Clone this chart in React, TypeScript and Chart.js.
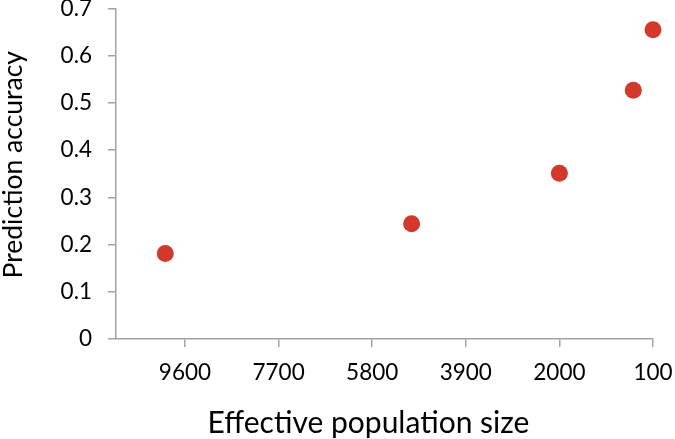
import React, { useEffect, useRef } from "react";
import { Chart, registerables } from "chart.js";
Chart.register(...registerables);

const popSizes = [10000, 5000, 2000, 500, 100];
const accuracy = [0.181, 0.244, 0.351, 0.527, 0.655];
const xTickValues = [9600, 7700, 5800, 3900, 2000, 100];
const yTickValues = [0, 0.1, 0.2, 0.3, 0.4, 0.5, 0.6, 0.7];
const xTitle = "Effective population size";
const yTitle = "Prediction accuracy";

const FONT = "Lato";
const AXIS = "#a3a3a3";

const titlesPlugin = {
  id: "axisTitles",
  afterDraw(chart: any) {
    const c = chart.ctx;
    const area = chart.chartArea;
    c.save();
    c.fillStyle = "#000";
    c.textAlign = "center";
    c.textBaseline = "alphabetic";
    c.font = `30px ${FONT}`;
    c.fillText(xTitle, (area.left + area.right) / 2 - 16, chart.height - 6);
    c.translate(22, (area.top + area.bottom) / 2 - 9);
    c.rotate(-Math.PI / 2);
    c.font = `26.5px ${FONT}`;
    c.fillText(yTitle, 0, 0);
    c.restore();
  },
};

export default function App() {
  const ref = useRef<HTMLCanvasElement | null>(null);
  useEffect(() => {
    document.body.style.margin = "0";
    const ctx = ref.current!;
    const chart = new Chart(ctx, {
      type: "scatter",
      data: {
        datasets: [
          {
            data: popSizes.map((x, i) => ({ x, y: accuracy[i] })),
            backgroundColor: "#d3392b",
            borderColor: "#d3392b",
            pointRadius: 8.5,
            borderWidth: 0,
            clip: false as any,
          },
        ],
      },
      plugins: [titlesPlugin],
      options: {
        animation: false,
        responsive: true,
        maintainAspectRatio: false,
        layout: { padding: { top: 6, right: 22, left: 0, bottom: 0 } },
        plugins: { legend: { display: false }, tooltip: { enabled: false } },
        scales: {
          x: {
            type: "linear",
            reverse: true,
            min: 100,
            max: 11000,
            afterBuildTicks: (s: any) => {
              s.ticks = xTickValues.map((v) => ({ value: v }));
            },
            afterFit: (s: any) => {
              s.height = 100;
              s.paddingLeft = 0;
              s.paddingRight = 0;
            },
            ticks: {
              autoSkip: false,
              maxRotation: 0,
              color: "#000",
              padding: 12,
              font: { family: FONT, size: 22.5 },
              callback: (v: any) => String(v),
            },
            grid: { drawOnChartArea: false, drawTicks: true, tickLength: 8, color: AXIS, lineWidth: 1.5 },
            border: { color: AXIS, width: 1.5 },
          },
          y: {
            type: "linear",
            min: 0,
            max: 0.7,
            afterBuildTicks: (s: any) => {
              s.ticks = yTickValues.map((v) => ({ value: v }));
            },
            afterFit: (s: any) => {
              s.width = 116;
              s.paddingTop = 0;
              s.paddingBottom = 0;
            },
            ticks: {
              color: "#000",
              padding: 16,
              font: { family: FONT, size: 22.5 },
              callback: (v: any) => (v === 0 ? "0" : Number(v).toFixed(1)),
            },
            grid: { drawOnChartArea: false, drawTicks: true, tickLength: 8, color: AXIS, lineWidth: 1.5 },
            border: { color: AXIS, width: 1.5 },
          },
        },
      },
    });
    return () => chart.destroy();
  }, []);
  return (
    <div style={{ width: 675, height: 439, position: "relative" }}>
      <canvas ref={ref} />
    </div>
  );
}
